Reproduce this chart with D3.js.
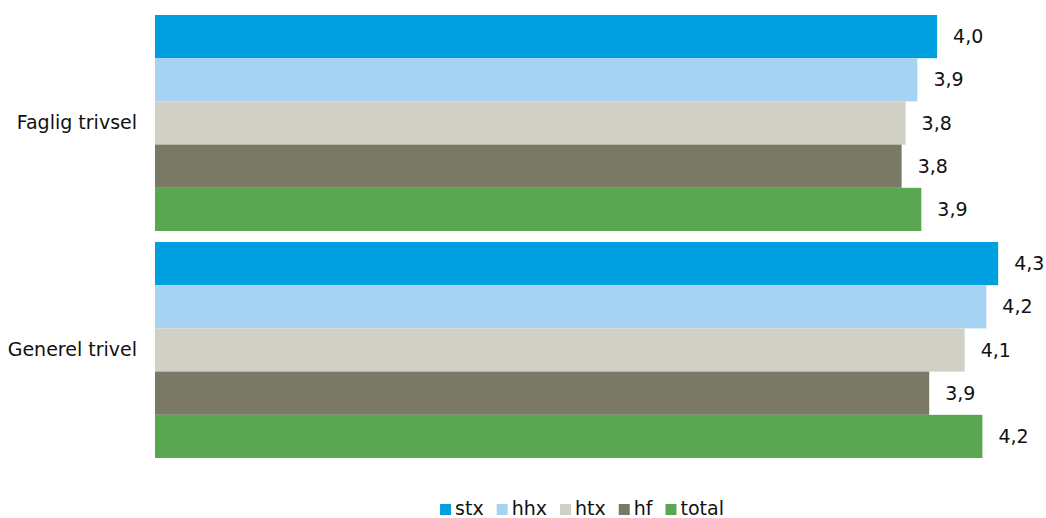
<!DOCTYPE html>
<html>
<head>
<meta charset="utf-8">
<script src="https://cdn.jsdelivr.net/npm/d3@7"></script>
<style>
  html, body { margin: 0; padding: 0; background: #fff; }
  svg { display: block; font-family: "DejaVu Sans", Verdana, sans-serif; }
</style>
</head>
<body>
<svg id="chart" width="1046" height="518"></svg>
<script>
// Categories (top to bottom) and series
const categories = ["Faglig trivsel", "Generel trivel"];
const seriesNames = ["stx", "hhx", "htx", "hf", "total"];
const seriesColors = ["#009fe0", "#a7d3f3", "#d0d0c7", "#7a7965", "#5ba651"];

// Values per series, in category order
const stx   = [3.97, 4.28];
const hhx   = [3.87, 4.22];
const htx   = [3.81, 4.11];
const hf    = [3.79, 3.93];
const total = [3.89, 4.20];
const seriesValues = [stx, hhx, htx, hf, total];

const svg = d3.select("#chart");
const fontSize = 19;

const x = d3.scaleLinear().domain([0, 5]).range([155, 1140]);
const y0 = d3.scaleBand().domain(categories).range([15, 458]).paddingInner(11 / 227).paddingOuter(0);
const y1 = d3.scaleBand().domain(seriesNames).range([0, y0.bandwidth()]).padding(0);
const color = d3.scaleOrdinal().domain(seriesNames).range(seriesColors);

const fmt = v => d3.format(".1f")(v).replace(".", ",");

const rows = [];
categories.forEach((c, ci) => {
  seriesNames.forEach((s, si) => {
    rows.push({ category: c, series: s, value: seriesValues[si][ci] });
  });
});

const groups = svg.append("g").selectAll("g")
  .data(categories)
  .join("g")
  .attr("transform", d => `translate(0,${y0(d)})`);

groups.selectAll("rect")
  .data(c => rows.filter(r => r.category === c))
  .join("rect")
  .attr("x", x(0))
  .attr("y", d => y1(d.series))
  .attr("width", d => x(d.value) - x(0))
  .attr("height", y1.bandwidth())
  .attr("fill", d => color(d.series));

groups.selectAll("text.value")
  .data(c => rows.filter(r => r.category === c))
  .join("text")
  .attr("class", "value")
  .attr("x", d => x(d.value) + 16)
  .attr("y", d => y1(d.series) + y1.bandwidth() / 2)
  .attr("dy", "0.35em")
  .attr("font-size", fontSize)
  .attr("fill", "#111")
  .text(d => fmt(d.value));

// Category labels on the left
const yAxis = d3.axisLeft(y0).tickSize(0).tickPadding(18);
const ax = svg.append("g")
  .attr("transform", `translate(${x(0)},0)`)
  .call(yAxis);
ax.select(".domain").remove();
ax.selectAll("text")
  .attr("font-size", fontSize)
  .attr("font-family", "\"DejaVu Sans\", Verdana, sans-serif")
  .attr("fill", "#111");

// Legend along the bottom, centred
const legend = svg.append("g").attr("class", "legend");
const items = legend.selectAll("g")
  .data(seriesNames)
  .join("g");
items.append("rect")
  .attr("width", 11)
  .attr("height", 11)
  .attr("y", -11)
  .attr("fill", d => color(d));
items.append("text")
  .attr("x", 15)
  .attr("y", 0)
  .attr("font-size", fontSize)
  .attr("fill", "#111")
  .text(d => d);

let cursor = 0;
items.each(function () {
  const g = d3.select(this);
  g.attr("transform", `translate(${cursor},0)`);
  const w = 15 + g.select("text").node().getComputedTextLength();
  cursor += w + 13;
});
const legendWidth = cursor - 13;
legend.attr("transform", `translate(${582 - legendWidth / 2},515)`);
</script>
</body>
</html>
